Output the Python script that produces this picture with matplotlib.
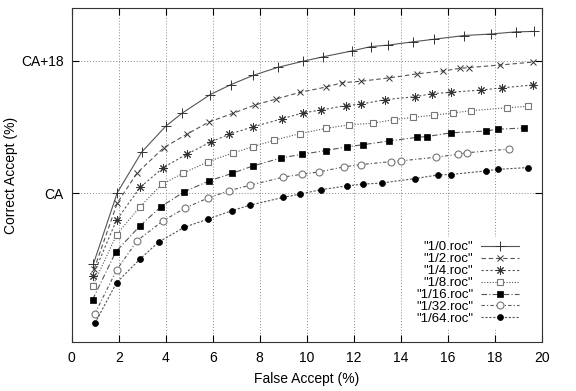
import matplotlib
matplotlib.use("Agg")
import matplotlib.pyplot as plt

plt.rcParams["font.family"] = ["Liberation Sans", "DejaVu Sans"]

# ── Data (y is relative to CA) ─────────────────────────────
x_1_0 = [0.92, 1.94, 2.98, 4.0, 4.71, 5.90, 6.78, 7.73, 8.79, 9.83, 10.68, 11.91,
         12.74, 13.47, 14.54, 15.43, 16.71, 17.83, 18.91, 19.68]
y_1_0 = [-9.6, 0.1, 5.6, 9.1, 10.9, 13.4, 14.75, 16.0, 17.1, 17.9, 18.5, 19.3,
         19.9, 20.1, 20.55, 20.9, 21.4, 21.6, 21.9, 21.95]

x_1_2 = [0.95, 1.94, 2.78, 3.92, 4.89, 5.83, 6.86, 7.82, 8.71, 9.71, 10.81, 11.51,
         12.3, 13.5, 14.7, 15.81, 16.52, 16.9, 18.23, 19.64]
y_1_2 = [-10.3, -1.3, 2.75, 6.2, 8.0, 9.65, 10.85, 12.0, 12.8, 13.7, 14.4, 15.0,
         15.2, 15.65, 16.2, 16.6, 16.95, 17.05, 17.4, 17.8]

x_1_4 = [0.89, 1.91, 2.91, 3.9, 4.89, 5.91, 6.69, 7.7, 8.94, 9.83, 10.61, 11.67,
         12.31, 13.33, 14.61, 15.32, 16.13, 17.4, 18.31, 19.64]
y_1_4 = [-11.25, -3.6, 0.8, 3.5, 5.3, 6.96, 8.0, 9.0, 10.1, 10.9, 11.3, 11.9,
         12.1, 12.7, 13.1, 13.5, 13.7, 14.0, 14.3, 14.7]

x_1_8 = [0.89, 1.91, 2.91, 3.83, 4.72, 5.81, 6.88, 7.7, 8.61, 9.71, 10.81, 11.81,
         12.81, 13.71, 14.51, 15.42, 16.21, 16.99, 18.51, 19.4]
y_1_8 = [-12.6, -5.6, -1.8, 1.2, 2.7, 4.3, 5.5, 6.3, 7.2, 8.1, 8.8, 9.3,
         9.5, 10.0, 10.3, 10.6, 10.9, 11.2, 11.6, 11.8]

x_1_16 = [0.89, 1.88, 2.91, 3.8, 4.78, 5.86, 6.81, 7.7, 8.91, 9.81, 10.81, 11.7,
          12.41, 13.5, 14.71, 15.11, 16.13, 17.63, 18.13, 19.23]
y_1_16 = [-14.4, -7.9, -4.4, -1.8, 0.2, 1.7, 2.7, 3.7, 4.8, 5.3, 5.8, 6.3,
          6.6, 7.1, 7.6, 7.7, 8.2, 8.45, 8.7, 8.85]

x_1_32 = [0.99, 1.91, 2.79, 3.9, 4.82, 5.79, 6.69, 7.59, 9.0, 9.81, 10.52, 11.6,
          12.31, 13.59, 14.01, 15.5, 16.43, 16.81, 18.62]
y_1_32 = [-16.3, -10.4, -6.4, -3.7, -2.0, -0.65, 0.35, 1.1, 2.2, 2.6, 2.9, 3.6,
          3.9, 4.3, 4.4, 4.9, 5.3, 5.5, 6.0]

x_1_64 = [0.99, 1.91, 2.91, 3.7, 4.79, 5.79, 6.81, 7.59, 9.0, 9.71, 10.61, 11.7,
          12.41, 13.19, 14.61, 15.6, 16.13, 17.63, 18.13, 19.43]
y_1_64 = [-17.6, -12.1, -8.9, -6.6, -4.6, -3.5, -2.35, -1.6, -0.55, -0.1, 0.5, 1.0,
          1.25, 1.4, 2.0, 2.5, 2.55, 3.05, 3.25, 3.5]

labels = ['"1/0.roc"', '"1/2.roc"', '"1/4.roc"', '"1/8.roc"',
          '"1/16.roc"', '"1/32.roc"', '"1/64.roc"']
ytick_vals = [0, 18]
ytick_labels = ["CA", "CA+18"]

# ── Styles (gnuplot-like point types) ──────────────────────
LINE = "#555555"
STYLES = [
    dict(linestyle="-", marker="+", ms=6.5, mfc="none", mec="#333333", mew=0.7),
    dict(linestyle=(0, (4, 2.5)), marker="x", ms=5, mfc="none", mec="#333333", mew=0.7),
    dict(linestyle=(0, (2, 2)), marker=(8, 2, 0), ms=6, mfc="none", mec="#333333", mew=0.7),
    dict(linestyle=(0, (1, 1.5)), marker="s", ms=5, mfc="white", mec="#777777", mew=0.8),
    dict(linestyle=(0, (5, 2, 1, 2)), marker="s", ms=5, mfc="black", mec="black", mew=0.5),
    dict(linestyle=(0, (3, 2, 1, 2)), marker="o", ms=5, mfc="white", mec="#777777", mew=0.8),
    dict(linestyle=(0, (2, 1.5)), marker="o", ms=4.3, mfc="black", mec="black", mew=0.5),
]

series = [(x_1_0, y_1_0), (x_1_2, y_1_2), (x_1_4, y_1_4), (x_1_8, y_1_8),
          (x_1_16, y_1_16), (x_1_32, y_1_32), (x_1_64, y_1_64)]

fig = plt.figure(figsize=(5.76, 3.91), dpi=100)
ax = fig.add_axes([0.1245, 0.1245, 0.8160, 0.8545])

for (xs, ys), lab, st in zip(series, labels, STYLES):
    ax.plot(xs, ys, color=LINE, linewidth=0.8, label=lab, zorder=3, **st)

ax.set_xlim(0, 20)
ax.set_ylim(-20.2, 25.1)
ax.set_xticks(range(0, 21, 2))
ax.set_yticks(ytick_vals)
ax.set_yticklabels(ytick_labels)
ax.tick_params(direction="in", top=True, right=True, length=5, width=0.8,
               labelsize=10, colors="black", pad=6)
for sp in ax.spines.values():
    sp.set_linewidth(0.8)
    sp.set_color("#333333")

# gnuplot-style dotted grid (inner ticks only)
for gx in range(2, 20, 2):
    ax.axvline(gx, color="#888888", linestyle=(0, (1, 2)), linewidth=0.7, zorder=1)
for gy in ytick_vals:
    ax.axhline(gy, color="#888888", linestyle=(0, (1, 2)), linewidth=0.7, zorder=1)

ax.set_xlabel("False Accept (%)", fontsize=10, labelpad=5)
ax.set_ylabel("Correct Accept (%)", fontsize=10, labelpad=2)

leg = ax.legend(loc="lower right", markerfirst=False, fontsize=9.5, frameon=True,
                facecolor="white", edgecolor="none", framealpha=1, fancybox=False,
                handlelength=2.9, handletextpad=0.6, labelspacing=-0.02,
                borderpad=0.3, bbox_to_anchor=(0.975, 0.02))
leg.set_zorder(5)

fig.savefig("out.png", dpi=100)
